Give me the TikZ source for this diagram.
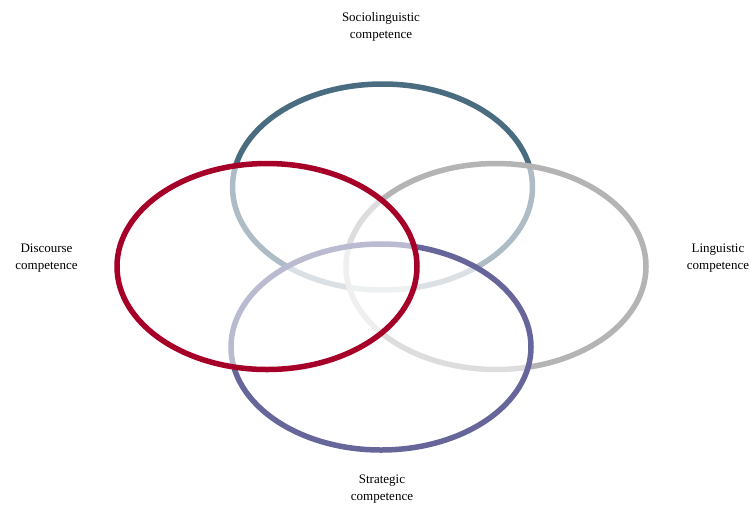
\documentclass[tikz,border=0pt]{standalone}
\usepackage{fontspec}
\setmainfont{Liberation Serif}
\usetikzlibrary{shapes.geometric}
\definecolor{socio}{RGB}{74,108,128}
\definecolor{ling}{RGB}{180,180,180}
\definecolor{strat}{RGB}{103,102,154}
\definecolor{disc}{RGB}{166,0,40}
\begin{document}
\begin{tikzpicture}[x=1pt,y=-1pt,
  ring/.style={ellipse, minimum width=300pt, minimum height=206pt, line width=5.5pt, fill=white, fill opacity=0.55, draw opacity=1, inner sep=0pt},
  lbl/.style={align=center, font=\fontsize{13}{17}\selectfont, text=black}]
\useasboundingbox (0,0) rectangle (749,504);
\node[ring, draw=socio] (s) at (382.5,187) {};
\node[ring, draw=ling] (l) at (496,266.5) {};
\node[ring, draw=strat] (t) at (381,347) {};
\node[ring, draw=disc] (d) at (267,266.5) {};
\node[lbl] (ls) at (381,27) {Sociolinguistic\\competence};
\node[lbl] (ld) at (46.5,258) {Discourse\\competence};
\node[lbl] (ll) at (718,258) {Linguistic\\competence};
\node[lbl] (lt) at (382,489) {Strategic\\competence};
\end{tikzpicture}
\end{document}
